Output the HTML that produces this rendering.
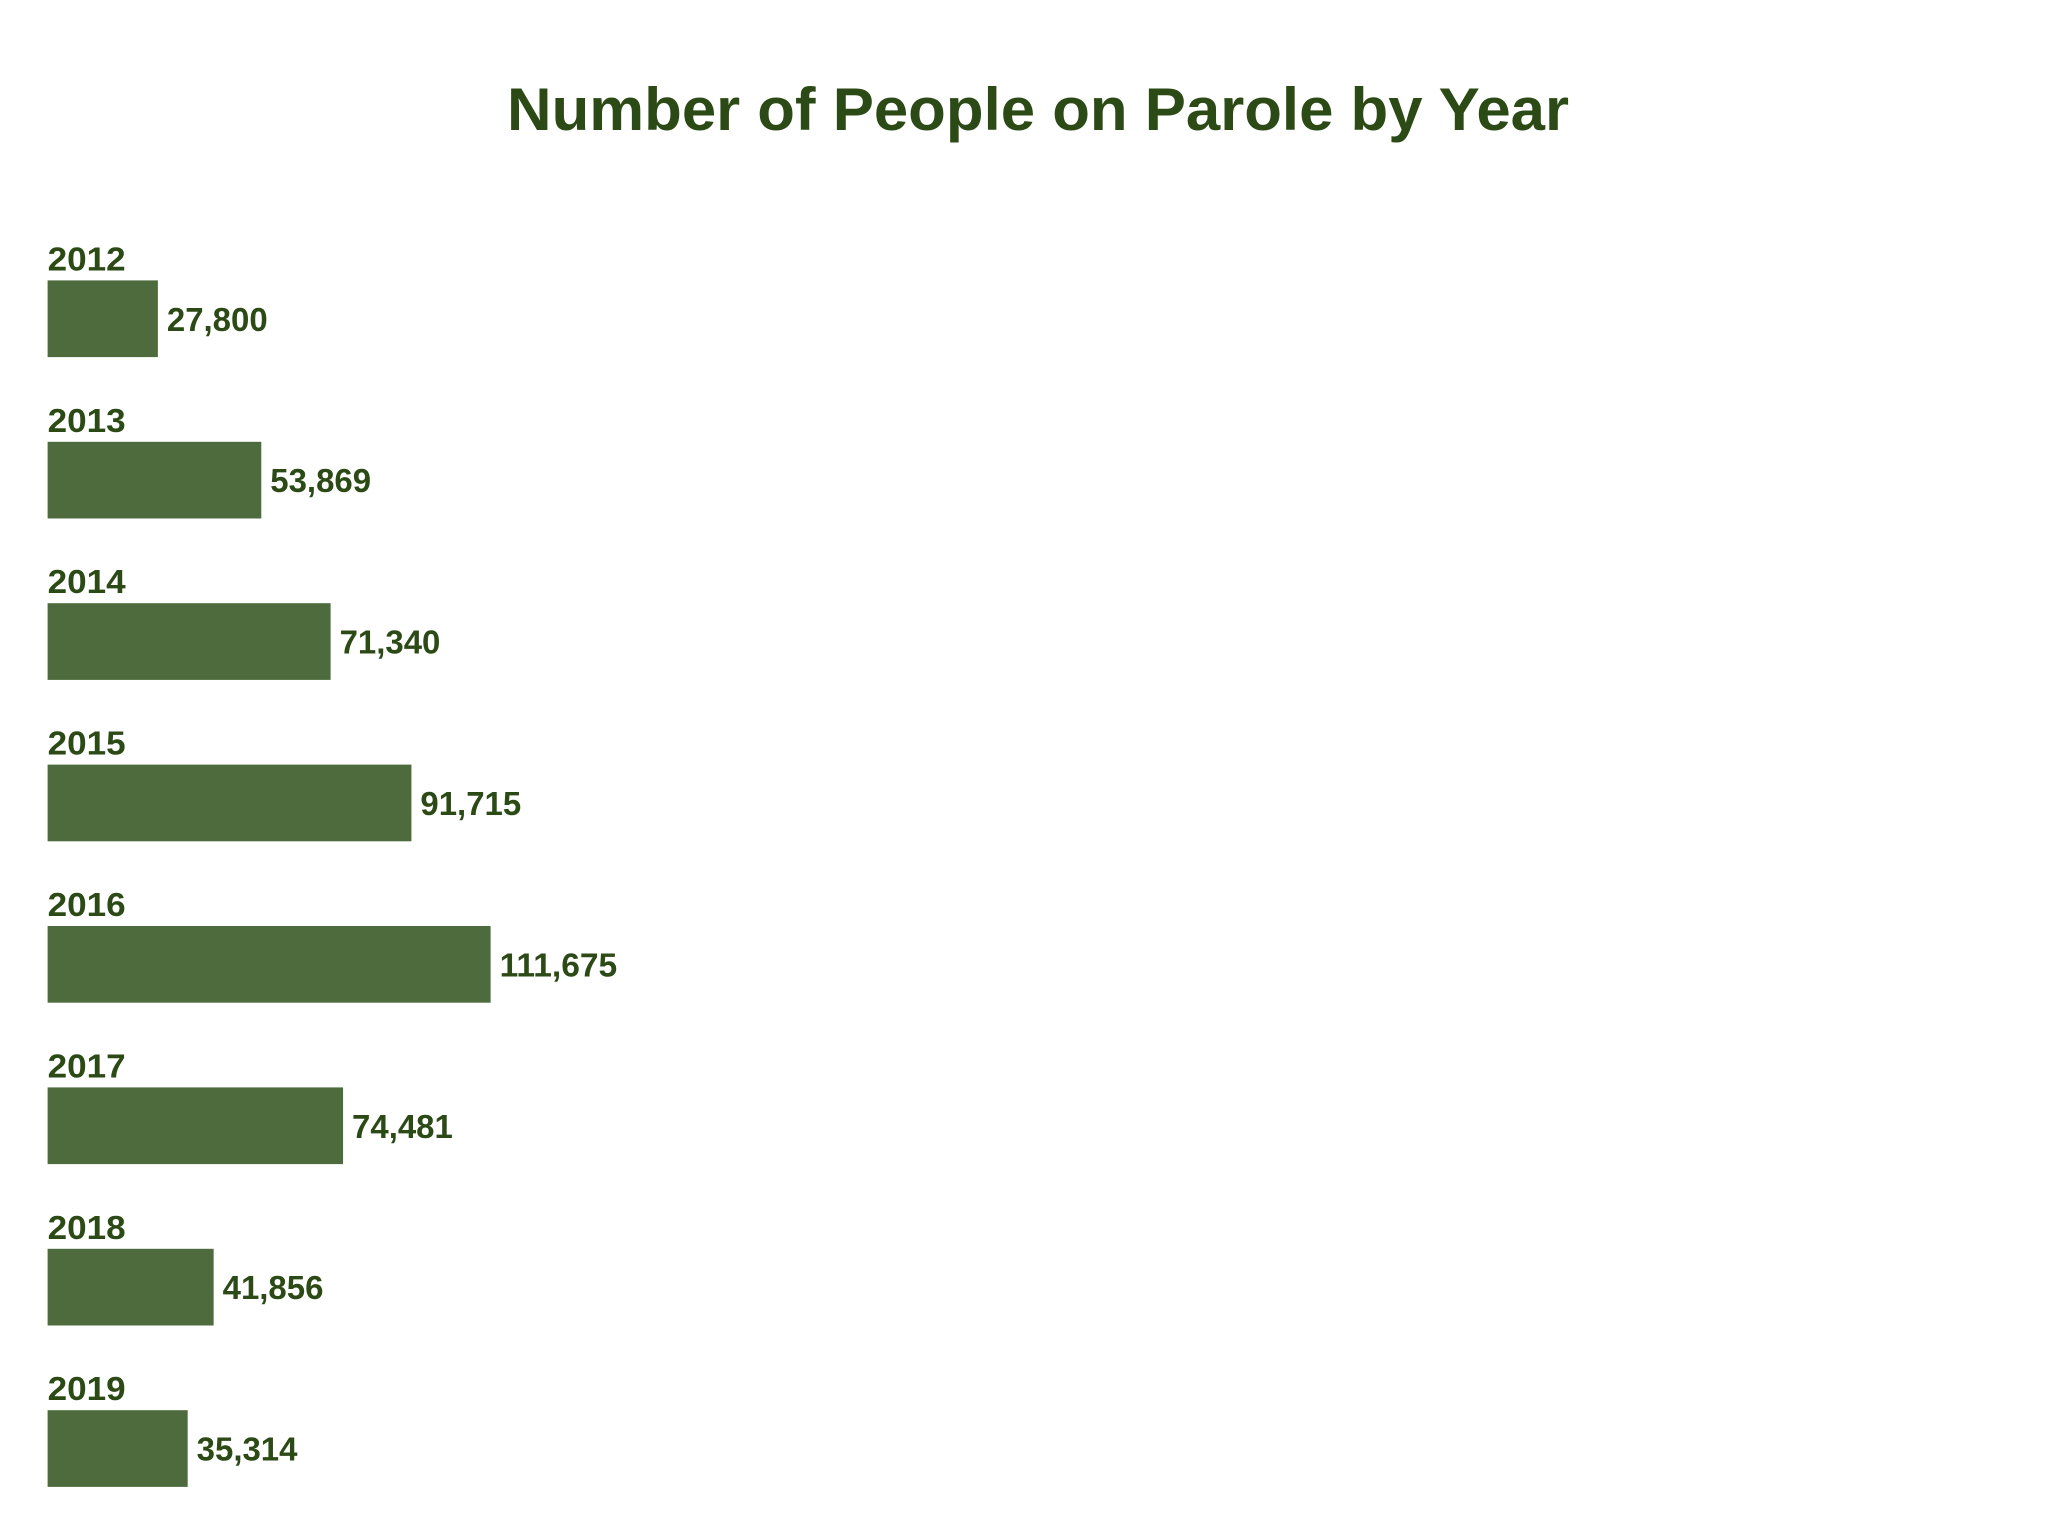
<!DOCTYPE html>
<html><head><meta charset="utf-8"><style>
html,body{margin:0;padding:0;background:#fff;}
svg{display:block;font-family:"Liberation Sans",sans-serif;font-weight:bold;}
</style></head><body>
<svg id="chart" width="2050" height="1514" viewBox="0 0 2050 1514" xmlns="http://www.w3.org/2000/svg">
<rect width="2050" height="1514" fill="#fff"/>
<text x="1038" y="130" text-anchor="middle" font-size="60" fill="#2b4a15" textLength="1062" lengthAdjust="spacingAndGlyphs">Number of People on Parole by Year</text>
<g id="bars"></g>
</svg>
<script>
const years = ["2012","2013","2014","2015","2016","2017","2018","2019"];
const values = [27800,53869,71340,91715,111675,74481,41856,35314];
const labels = ["27,800","53,869","71,340","91,715","111,675","74,481","41,856","35,314"];
const NS="http://www.w3.org/2000/svg";
const g=document.getElementById('bars');
const x0=47.6, pxPerUnit=443/111675;
const xScale=v=>v*pxPerUnit;
const top0=280.4, step=161.4, barH=76.7;
const yScale=i=>top0+i*step;
years.forEach((yr,i)=>{
  const y=yScale(i), w=xScale(values[i]);
  const t=document.createElementNS(NS,'text');
  
  
  t.setAttribute('x',x0);t.setAttribute('y',y-10);
  t.setAttribute('font-size','33');t.setAttribute('fill','#2b4a15');
  t.setAttribute('textLength','78');t.setAttribute('lengthAdjust','spacingAndGlyphs');
  t.textContent=yr;g.appendChild(t);
  const r=document.createElementNS(NS,'rect');
  
  
  r.setAttribute('x',x0);r.setAttribute('y',y);
  r.setAttribute('width',w);r.setAttribute('height',barH);
  r.setAttribute('fill','#4d6b3c');g.appendChild(r);
  const v=document.createElementNS(NS,'text');
  
  
  v.setAttribute('x',x0+w+9);v.setAttribute('y',y+barH/2+12);
  v.setAttribute('font-size','33');v.setAttribute('fill','#2b4a15');
  v.setAttribute('textLength',labels[i].length*16.8);v.setAttribute('lengthAdjust','spacingAndGlyphs');
  v.textContent=labels[i];g.appendChild(v);
});
</script>
</body></html>
